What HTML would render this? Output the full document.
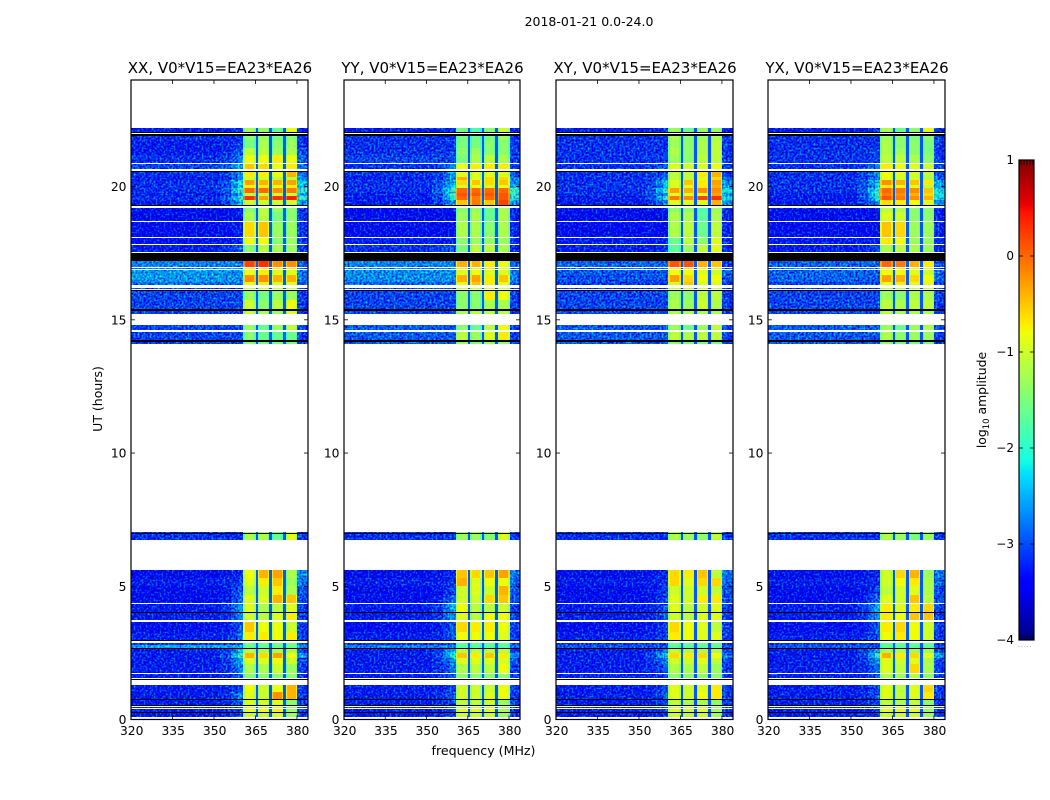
<!DOCTYPE html>
<html lang="en">
<head>
<meta charset="utf-8">
<title>2018-01-21 0.0-24.0</title>
<style>
html,body{margin:0;padding:0;background:#fff;}
svg{display:block;font-family:"DejaVu Sans","Liberation Sans",sans-serif;fill:#000;}
</style>
</head>
<body>
<svg id="figure" xmlns="http://www.w3.org/2000/svg" width="1050" height="800" viewBox="0 0 1050 800">
<defs>
<filter id="grain" filterUnits="userSpaceOnUse" x="0" y="0" width="1050" height="800" color-interpolation-filters="sRGB">
<feTurbulence type="fractalNoise" baseFrequency="0.5" numOctaves="1" seed="4" result="t"/>
<feColorMatrix in="t" type="matrix" values="0 0 0 0 0.5  1.6 0 0 0 -0.42  0 1.4 0 0 -0.2  0 0 0 0 1" result="n"/>
<feComposite in="SourceGraphic" in2="n" operator="arithmetic" k1="0" k2="1" k3="1" k4="-0.5" result="m"/>
<feComposite in="m" in2="SourceAlpha" operator="in"/>
</filter>
<linearGradient id="colorbar-gradient" x1="0" y1="1" x2="0" y2="0"></linearGradient>
</defs>
<text x="589" y="26" font-size="12.5" text-anchor="middle">2018-01-21 0.0-24.0</text>
<text x="483.5" y="755" font-size="12.6" text-anchor="middle">frequency (MHz)</text>
<text x="0" y="0" font-size="12.5" text-anchor="middle" transform="translate(102 399) rotate(-90)">UT (hours)</text>
<text x="0" y="0" font-size="12.4" text-anchor="middle" transform="translate(986 400) rotate(-90)">log<tspan font-size="8.5" dy="3">10</tspan><tspan dy="-3"> amplitude</tspan></text>
<g id="panels"></g>
<g id="colorbar"></g>
</svg>
<script>
// Panel titles and axis ticks
const panelTitles = ['XX, V0*V15=EA23*EA26', 'YY, V0*V15=EA23*EA26', 'XY, V0*V15=EA23*EA26', 'YX, V0*V15=EA23*EA26'];
const freqTicks = [320, 335, 350, 365, 380];
const hourTicks = [0, 5, 10, 15, 20];
const colorTicks = [1, 0, -1, -2, -3, -4];

// Start / end (UT hours) of each stretch of recorded data
const rowStart = [22.20,21.90,21.74,21.44,21.18,20.86,20.53,20.36,20.24,20.06,19.94,19.77,19.64,19.49,19.21,19.04,18.67,18.07,17.79,17.20,16.94,16.87,16.68,16.42,16.20,16.08,15.74,15.33,14.82,14.56,14.17,7.02,5.61,5.31,5.01,4.67,4.33,4.00,3.66,3.28,2.87,2.80,2.65,2.50,2.31,2.08,1.70,1.29,1.03,0.73,0.47,0.39,0.24];
const rowEnd = [22.04,21.76,21.44,21.18,20.90,20.66,20.36,20.24,20.06,19.94,19.77,19.64,19.49,19.32,19.04,18.71,18.10,17.86,17.54,17.00,16.90,16.68,16.42,16.29,16.14,15.74,15.40,15.23,14.62,14.24,14.11,6.74,5.31,5.01,4.67,4.37,4.03,3.73,3.28,2.98,2.80,2.67,2.50,2.31,2.08,1.75,1.54,1.03,0.77,0.53,0.43,0.28,0.09];

// Flagged (black) scans
const flagStart = [22.04,21.97,20.60,19.32,17.49,16.12,15.39,14.24,7.00,4.03,2.98,2.67,1.53,0.77,0.53,0.28];
const flagEnd = [22.00,21.90,20.54,19.29,17.20,16.08,15.34,14.18,6.96,4.00,2.94,2.65,1.49,0.73,0.49,0.24];

// Frequency bands: background, ramp, sub-bands A-D, right edge (MHz)
const bandStart = [360.67, 365.9, 370.9, 375.9];
const bandEnd = [365.1, 370.0, 375.0, 380.2];
const gapValue = [-2.95];

// log10 amplitude per row: [background, ramp, A, B, C, D, right edge]
const xxValues = [
[-3.1,-3.0,-1.2,-1.3,-1.6,-0.8,-3.1],[-3.0,-3.0,-1.4,-1.3,-1.5,-1.4,-3.0],[-3.1,-2.9,-1.5,-1.2,-1.4,-1.3,-3.0],[-3.1,-2.8,-1.1,-1.1,-1.3,-1.2,-2.9],[-3.0,-2.6,-0.8,-0.8,-0.7,-0.8,-2.8],
[-2.9,-2.4,-0.5,-0.6,-0.8,-0.7,-2.7],[-3.0,-2.5,-0.7,-0.7,-0.8,-0.4,-2.7],[-3.1,-2.6,-1.0,-1.0,-1.1,-1.1,-2.6],[-3.0,-2.1,-0.3,-0.4,-0.4,-0.3,-2.3],[-3.0,-2.3,-0.7,-0.7,-0.8,-0.7,-2.3],
[-3.0,-1.9,0.0,0.0,-0.2,-0.1,-2.0],[-3.1,-2.4,-1.1,-1.0,-1.0,-1.0,-2.4],[-3.0,-1.9,0.3,-0.3,0.3,0.4,-2.0],[-3.1,-2.3,-1.0,-1.0,-1.0,-1.0,-2.5],[-3.2,-3.1,-1.4,-1.1,-1.3,-1.4,-3.0],
[-3.2,-3.1,-1.2,-1.1,-1.5,-1.4,-3.0],[-3.2,-3.1,-0.6,-0.5,-1.3,-1.3,-3.0],[-3.2,-3.0,-0.8,-0.8,-1.4,-1.3,-3.0],[-3.1,-2.8,-1.4,-1.1,-1.2,-1.3,-3.0],[-2.6,-2.6,0.2,0.3,-0.2,-0.2,-2.8],
[-2.55,-2.55,-0.7,-0.7,-0.7,-0.7,-2.8],[-2.5,-2.55,-0.8,-0.7,-0.9,-0.9,-2.7],[-2.5,-2.55,-0.2,-0.2,-0.4,-0.4,-2.7],[-2.7,-2.7,-0.8,-0.7,-0.9,-0.9,-2.9],[-2.9,-2.9,-0.9,-0.9,-0.9,-0.9,-3.0],
[-2.9,-2.9,-1.3,-1.5,-1.3,-1.3,-3.0],[-2.9,-2.9,-1.0,-1.4,-1.1,-0.8,-3.0],[-2.9,-2.9,-1.0,-1.2,-1.3,-0.9,-3.0],[-2.9,-2.9,-1.3,-1.6,-1.3,-1.1,-2.9],[-2.9,-2.9,-1.4,-1.6,-1.6,-1.6,-3.0],
[-2.9,-2.9,-1.4,-1.5,-1.5,-1.5,-3.0],[-3.0,-3.0,-1.2,-1.2,-1.6,-0.9,-3.0],[-3.2,-3.0,-0.8,-0.4,-0.3,-1.2,-2.6],[-3.1,-2.9,-0.9,-0.7,-0.5,-1.3,-2.7],[-3.2,-2.8,-1.1,-1.0,-0.7,-1.2,-2.9],
[-3.2,-2.7,-0.9,-0.9,-0.4,-0.5,-2.9],[-3.1,-2.5,-0.9,-1.2,-1.1,-0.9,-3.0],[-3.1,-2.6,-1.0,-1.1,-0.9,-0.7,-3.0],[-3.2,-2.8,-0.5,-0.8,-0.8,-1.0,-3.0],[-3.1,-2.7,-0.7,-0.7,-0.8,-0.7,-3.0],
[-3.0,-2.9,-1.5,-1.5,-1.5,-1.5,-3.0],[-2.4,-2.4,-1.6,-1.6,-1.6,-1.6,-2.6],[-3.1,-2.3,-1.1,-1.2,-1.2,-1.2,-2.9],[-3.1,-1.9,-0.4,-0.6,-0.3,-0.8,-2.5],[-3.1,-2.4,-0.9,-0.9,-0.8,-1.0,-2.9],
[-3.1,-2.6,-1.2,-1.2,-1.0,-1.3,-3.0],[-3.1,-2.8,-1.4,-1.4,-1.4,-1.4,-3.0],[-3.1,-2.9,-0.8,-1.0,-0.8,-0.4,-3.0],[-3.1,-2.6,-0.9,-1.0,-0.2,-0.4,-3.0],[-3.1,-2.8,-0.9,-1.0,-0.9,-1.4,-3.0],
[-3.1,-2.9,-1.1,-1.1,-1.0,-1.3,-3.0],[-3.1,-2.9,-0.8,-0.8,-0.7,-1.3,-3.0],[-3.1,-2.9,-1.0,-1.0,-0.9,-1.3,-3.0]
];
const yyValues = [
[-3.1,-3.0,-1.5,-1.8,-1.4,-1.0,-3.1],[-3.0,-3.0,-1.5,-1.6,-1.5,-1.3,-3.0],[-3.0,-3.0,-1.5,-1.5,-1.4,-1.4,-3.0],[-3.0,-2.9,-1.4,-1.3,-1.4,-1.4,-3.0],[-2.9,-2.9,-1.5,-1.2,-1.1,-1.2,-3.0],
[-3.0,-2.6,-0.8,-0.7,-0.7,-0.7,-3.0],[-3.0,-2.5,-0.9,-0.9,-0.9,-0.9,-2.9],[-3.1,-2.5,-0.4,-0.9,-0.6,-0.6,-2.7],[-3.0,-2.4,-0.6,-0.5,-0.6,-0.5,-2.6],[-3.0,-2.2,-0.9,-0.8,-0.9,-0.8,-2.4],
[-3.0,-1.9,0.0,0.0,0.0,0.0,-2.0],[-3.1,-1.9,0.1,0.1,0.1,0.1,-2.0],[-3.1,-2.0,0.0,-0.1,0.0,0.1,-2.1],[-3.1,-2.5,-0.5,-0.1,-0.5,0.2,-2.6],[-3.2,-3.1,-1.4,-1.3,-1.6,-1.2,-3.1],
[-3.2,-3.2,-1.3,-1.2,-1.6,-1.2,-3.1],[-3.2,-3.2,-1.2,-1.2,-1.4,-1.2,-3.1],[-3.1,-3.1,-1.4,-1.3,-1.3,-1.3,-3.1],[-3.0,-2.8,-1.5,-1.1,-1.1,-1.2,-3.1],[-2.6,-2.6,-0.4,-0.4,-0.7,-0.8,-2.8],
[-2.55,-2.55,-0.7,-0.9,-0.7,-0.8,-2.8],[-2.55,-2.55,-0.9,-0.8,-0.9,-0.9,-2.7],[-2.55,-2.55,-0.4,-0.3,-0.7,-0.5,-2.7],[-2.75,-2.75,-0.8,-0.5,-0.7,-0.8,-2.9],[-2.9,-2.9,-0.9,-0.9,-0.9,-0.9,-3.0],
[-2.9,-2.9,-1.4,-1.4,-0.7,-0.8,-3.0],[-2.9,-2.9,-1.4,-1.4,-1.2,-1.2,-3.0],[-2.9,-2.9,-1.2,-1.1,-1.1,-1.1,-3.0],[-2.8,-2.8,-1.4,-1.6,-1.1,-0.8,-3.0],[-2.8,-2.8,-1.1,-1.3,-0.9,-0.7,-3.0],
[-2.8,-2.8,-1.3,-1.4,-1.3,-1.3,-3.0],[-3.0,-3.0,-1.3,-1.3,-1.4,-0.9,-3.0],[-3.2,-3.0,-0.5,-0.6,-0.5,-0.3,-2.7],[-3.1,-3.0,-0.4,-0.9,-0.8,-0.8,-2.8],[-3.2,-2.9,-1.0,-0.9,-1.0,-0.4,-2.9],
[-3.2,-2.7,-1.0,-1.0,-0.6,-0.5,-2.9],[-3.1,-2.4,-0.8,-1.1,-1.1,-1.0,-3.0],[-3.1,-2.5,-0.9,-1.1,-0.8,-0.8,-3.0],[-3.2,-2.8,-0.6,-0.7,-0.7,-0.8,-3.0],[-3.1,-2.8,-0.8,-0.8,-0.8,-0.9,-3.0],
[-3.0,-2.9,-1.6,-1.6,-1.6,-1.6,-3.0],[-2.6,-2.6,-1.7,-1.7,-1.7,-1.7,-2.8],[-3.1,-2.4,-1.1,-1.1,-1.1,-1.1,-3.0],[-3.1,-2.1,-0.5,-0.7,-0.5,-0.7,-2.6],[-3.1,-2.5,-0.9,-0.9,-0.9,-0.9,-2.9],
[-3.1,-2.7,-1.2,-1.1,-1.1,-0.8,-3.0],[-3.1,-2.8,-1.4,-1.4,-1.4,-1.4,-3.0],[-3.1,-2.9,-1.0,-1.0,-1.0,-0.8,-3.0],[-3.1,-2.8,-1.0,-1.0,-0.9,-0.8,-3.0],[-3.1,-2.9,-1.1,-1.1,-1.0,-1.3,-3.0],
[-3.1,-2.9,-1.1,-1.1,-1.1,-1.3,-3.0],[-3.1,-2.9,-0.9,-0.9,-0.9,-1.2,-3.0],[-3.1,-2.9,-1.0,-1.0,-1.0,-1.3,-3.0]
];
const xyValues = [
[-3.1,-3.0,-1.3,-1.6,-1.3,-1.3,-3.1],[-3.0,-3.0,-1.2,-1.4,-1.3,-1.2,-3.0],[-3.0,-3.0,-1.3,-1.4,-1.2,-1.1,-3.0],[-3.0,-3.0,-1.2,-1.4,-1.2,-1.1,-3.0],[-3.0,-2.9,-1.3,-1.4,-1.1,-1.1,-3.0],
[-3.0,-2.7,-0.9,-1.0,-0.9,-0.8,-3.0],[-3.0,-2.8,-1.1,-1.1,-0.7,-0.4,-3.0],[-3.0,-2.7,-1.1,-1.1,-0.9,-0.6,-2.8],[-3.0,-2.3,-0.9,-0.5,-0.7,-0.3,-2.6],[-3.0,-2.4,-1.0,-0.9,-0.7,-0.4,-2.6],
[-3.0,-2.0,-0.3,-0.4,-0.2,-0.2,-2.2],[-3.0,-2.5,-0.9,-0.9,-0.8,-0.3,-2.5],[-3.1,-2.0,-0.1,-0.2,0.2,0.3,-2.2],[-3.1,-2.5,-0.9,-0.9,-0.9,-0.4,-2.6],[-3.2,-3.1,-1.4,-1.4,-1.8,-1.3,-3.1],
[-3.2,-3.2,-1.2,-1.2,-1.7,-1.2,-3.1],[-3.2,-3.2,-1.2,-1.1,-1.6,-1.1,-3.1],[-3.1,-3.1,-1.6,-1.1,-1.4,-0.9,-3.1],[-3.1,-3.0,-1.7,-1.3,-1.1,-0.9,-3.1],[-2.75,-2.75,0.1,0.1,-0.4,-0.5,-3.0],
[-2.75,-2.75,-0.7,-0.7,-0.8,-0.9,-3.0],[-2.8,-2.8,-0.8,-0.8,-0.9,-1.0,-2.8],[-2.85,-2.85,-0.3,-0.6,-0.8,-0.8,-2.9],[-2.95,-3.0,-0.9,-0.5,-0.9,-0.9,-3.0],[-3.0,-3.0,-1.0,-1.0,-0.9,-1.0,-3.0],
[-2.9,-2.9,-1.3,-1.4,-1.1,-1.1,-3.0],[-2.9,-2.9,-1.2,-1.3,-1.0,-1.2,-3.0],[-2.9,-2.9,-1.2,-1.2,-1.2,-1.2,-3.0],[-2.8,-2.8,-1.3,-1.6,-1.3,-1.1,-2.9],[-2.8,-2.8,-1.1,-1.2,-1.1,-1.1,-3.0],
[-2.8,-2.8,-1.4,-1.5,-1.5,-1.5,-3.0],[-3.0,-3.0,-1.2,-1.3,-1.4,-1.1,-3.0],[-3.2,-3.0,-0.6,-0.7,-0.5,-1.1,-2.7],[-3.1,-3.0,-0.6,-0.9,-0.6,-0.6,-2.8],[-3.2,-2.9,-1.0,-1.0,-1.0,-1.1,-2.9],
[-3.2,-2.9,-0.9,-1.0,-0.7,-0.7,-2.9],[-3.1,-2.8,-0.9,-1.1,-1.0,-0.9,-3.0],[-3.1,-2.8,-1.0,-1.1,-0.9,-0.9,-3.0],[-3.2,-2.9,-0.6,-0.8,-0.9,-1.1,-3.0],[-3.1,-2.9,-0.7,-0.8,-0.9,-0.9,-3.0],
[-3.0,-2.9,-1.6,-1.6,-1.6,-1.6,-3.0],[-2.8,-2.8,-1.7,-1.7,-1.7,-1.7,-2.9],[-3.1,-2.6,-1.1,-1.2,-1.2,-1.2,-3.0],[-3.1,-2.2,-0.6,-0.7,-0.6,-0.8,-2.7],[-3.1,-2.6,-1.0,-1.0,-0.9,-1.1,-2.9],
[-3.1,-2.8,-1.2,-1.2,-1.1,-1.3,-3.0],[-3.1,-2.9,-1.4,-1.4,-1.4,-1.4,-3.0],[-3.1,-2.9,-0.9,-1.0,-0.9,-0.7,-3.0],[-3.1,-2.8,-0.9,-1.0,-0.8,-0.7,-3.0],[-3.1,-2.9,-1.1,-1.2,-1.2,-1.4,-3.0],
[-3.1,-2.9,-1.1,-1.1,-1.1,-1.3,-3.0],[-3.1,-2.9,-0.9,-1.0,-0.9,-1.3,-3.0],[-3.1,-2.9,-1.0,-1.1,-1.0,-1.3,-3.0]
];
const yxValues = [
[-3.1,-3.0,-1.2,-1.6,-1.4,-0.8,-3.1],[-3.0,-3.0,-1.3,-1.4,-1.5,-1.4,-3.0],[-3.0,-3.0,-1.2,-1.4,-1.4,-1.5,-3.0],[-3.0,-2.9,-1.2,-1.3,-1.4,-1.5,-3.0],[-3.0,-2.9,-1.1,-1.1,-1.2,-1.4,-3.0],
[-3.0,-2.6,-0.7,-0.8,-0.9,-1.0,-2.9],[-3.0,-2.6,-0.8,-0.9,-1.0,-1.1,-2.9],[-3.0,-2.6,-0.9,-1.0,-1.0,-1.2,-2.8],[-3.0,-2.2,-0.2,-0.4,-0.5,-0.7,-2.5],[-3.0,-2.3,-0.7,-0.8,-0.9,-1.1,-2.5],
[-3.0,-1.9,0.0,-0.1,-0.2,-0.5,-2.2],[-3.1,-2.0,-0.1,-0.2,-0.4,-0.6,-2.2],[-3.1,-2.0,0.1,-0.1,-0.2,-0.4,-2.2],[-3.1,-2.5,-0.6,-0.7,-0.8,-0.9,-2.6],[-3.2,-3.1,-1.1,-1.2,-1.4,-1.4,-3.1],
[-3.2,-3.2,-0.9,-1.0,-1.4,-1.4,-3.1],[-3.2,-3.2,-0.5,-0.6,-1.3,-1.3,-3.1],[-3.1,-3.1,-0.7,-0.8,-1.3,-1.3,-3.1],[-3.1,-2.9,-1.2,-1.1,-1.2,-1.3,-3.1],[-2.75,-2.75,0.0,-0.1,-0.4,-0.7,-2.9],
[-2.75,-2.75,-0.7,-0.7,-0.8,-0.9,-2.9],[-2.75,-2.8,-0.8,-0.8,-0.9,-1.0,-2.8],[-2.75,-2.8,-0.3,-0.4,-0.6,-0.8,-2.8],[-2.9,-2.9,-0.8,-0.7,-0.9,-0.9,-3.0],[-3.0,-3.0,-1.0,-1.0,-1.0,-1.0,-3.0],
[-2.9,-2.9,-1.3,-1.4,-1.2,-1.2,-3.0],[-2.9,-2.9,-1.1,-1.2,-1.1,-1.1,-3.0],[-2.9,-2.9,-1.1,-1.2,-1.2,-1.2,-3.0],[-2.8,-2.8,-1.3,-1.6,-1.3,-1.2,-2.9],[-2.8,-2.8,-1.2,-1.4,-1.3,-1.3,-3.0],
[-2.8,-2.8,-1.4,-1.5,-1.5,-1.5,-3.0],[-3.0,-3.0,-1.2,-1.3,-1.5,-1.3,-3.0],[-3.2,-3.0,-1.0,-0.6,-0.4,-1.3,-2.7],[-3.1,-3.0,-1.0,-0.8,-0.7,-1.2,-2.8],[-3.2,-2.9,-1.1,-1.0,-0.9,-1.2,-2.9],
[-3.2,-2.7,-0.9,-1.0,-0.5,-1.1,-2.9],[-3.1,-2.4,-0.7,-0.9,-0.7,-0.6,-3.0],[-3.1,-2.5,-0.7,-0.8,-0.5,-0.5,-3.0],[-3.2,-2.8,-0.7,-0.6,-0.8,-1.0,-3.0],[-3.1,-2.8,-0.8,-0.7,-0.8,-1.0,-3.0],
[-3.0,-2.9,-1.6,-1.6,-1.6,-1.6,-3.0],[-2.8,-2.8,-1.7,-1.7,-1.7,-1.7,-2.9],[-3.1,-2.4,-1.2,-1.2,-1.3,-1.3,-3.0],[-3.1,-2.0,-0.4,-0.7,-0.6,-0.9,-2.5],[-3.1,-2.5,-0.9,-1.0,-0.9,-1.2,-2.9],
[-3.1,-2.7,-0.9,-1.1,-0.6,-1.2,-3.0],[-3.1,-2.8,-1.2,-1.3,-1.2,-1.4,-3.0],[-3.1,-2.9,-0.9,-1.1,-0.9,-0.6,-3.0],[-3.1,-2.8,-0.9,-1.1,-0.9,-0.7,-3.0],[-3.1,-2.9,-1.1,-1.2,-1.1,-1.4,-3.0],
[-3.1,-2.9,-1.1,-1.1,-1.1,-1.3,-3.0],[-3.1,-2.9,-0.9,-0.9,-0.9,-1.3,-3.0],[-3.1,-2.9,-1.0,-1.0,-1.0,-1.3,-3.0]
];
const panelValues = [xxValues, yyValues, xyValues, yxValues];
const panelKeys = ['xx', 'yy', 'xy', 'yx'];

// Layout of the four axes (pixels) and the axis domains
const axesLeft = [131, 344, 556, 768];
const axesWidths = [177, 176, 177, 177];
const axesTop = 80, axesBottom = 719.5;
const freqMin = 320, freqMax = 384, hourMin = 0, hourMax = 24;
const colorMin = -4, colorMax = 1, barTop = 160, barBottom = 640, barLeft = 1019, barRight = 1034;

function yScale(h) { return axesBottom - (h - hourMin) / (hourMax - hourMin) * (axesBottom - axesTop); }
function xScale(f, p) { return axesLeft[p] + (f - freqMin) / (freqMax - freqMin) * axesWidths[p]; }
function colorY(v) { return barBottom - (v - colorMin) / (colorMax - colorMin) * (barBottom - barTop); }

// matplotlib "jet" colormap
const jetR = [[0,0],[0.35,0],[0.66,1],[0.89,1],[1,0.5]];
const jetG = [[0,0],[0.125,0],[0.375,1],[0.64,1],[0.91,0],[1,0]];
const jetB = [[0,0.5],[0.11,1],[0.34,1],[0.65,0],[1,0]];
function channel(pts, t) {
  for (let i = 1; i < pts.length; i++) {
    if (t <= pts[i][0]) {
      const a = pts[i-1], b = pts[i];
      return a[1] + (t - a[0]) / (b[0] - a[0]) * (b[1] - a[1]);
    }
  }
  return pts[pts.length-1][1];
}
function jet(v) {
  const t = Math.max(0, Math.min(1, (v - colorMin) / (colorMax - colorMin)));
  return 'rgb(' + Math.round(255*channel(jetR,t)) + ',' + Math.round(255*channel(jetG,t)) + ',' + Math.round(255*channel(jetB,t)) + ')';
}

const NS = 'http://www.w3.org/2000/svg';
function make(tag, parent, props) {
  const el = document.createElementNS(NS, tag);
  for (const k in props) el.setAttribute(k, props[k]);
  parent.appendChild(el);
  return el;
}
function cell(parent, f0, f1, h0, h1, p, fill) {
  const x0 = Math.round(xScale(f0, p)), x1 = Math.round(xScale(f1, p));
  const y0 = Math.round(yScale(h0)), y1 = Math.round(yScale(h1));
  const el = make('rect', parent, {x: x0, y: y0, width: Math.max(x1 - x0, 1), height: Math.max(y1 - y0, 1), fill: fill, 'shape-rendering': 'crispEdges'});
  
  
  return el;
}

const panelsRoot = document.getElementById('panels');
panelTitles.forEach(function (title, p) {
  const left = axesLeft[p], width = axesWidths[p], values = panelValues[p];
  const g = make('g', panelsRoot, {});
  
  

  // speckle filter only touches the receiver-background cells
  const noisy = make('g', g, {filter: 'url(#grain)'});
  
  
  const smooth = make('g', g, {});
  
  

  values.forEach(function (row, r) {
    const h0 = rowStart[r], h1 = rowEnd[r];
    const bg = row[0], ramp = row[1], right = row[6];
    cell(noisy, freqMin, 352, h0, h1, p, jet(bg));
    cell(noisy, 352, 356, h0, h1, p, jet(bg + (ramp - bg) * 0.2));
    cell(noisy, 356, 358.6, h0, h1, p, jet(bg + (ramp - bg) * 0.6));
    cell(noisy, 358.6, bandStart[0], h0, h1, p, jet(ramp));
    cell(noisy, bandEnd[3], 382, h0, h1, p, jet(right + 0.1));
    cell(noisy, 382, freqMax, h0, h1, p, jet(right));
    bandStart.forEach(function (s, b) {
      const e = bandEnd[b], v = row[2 + b];
      cell(smooth, s, s + 0.5, h0, h1, p, jet(v - 0.35));
      cell(smooth, s + 0.5, e - 0.5, h0, h1, p, jet(v));
      cell(smooth, e - 0.5, e, h0, h1, p, jet(v - 0.3));
      if (b < bandStart.length - 1) {
        cell(smooth, e, bandStart[b + 1], h0, h1, p, jet(gapValue[0]));
      }
    });
  });

  flagStart.forEach(function (h0, i) {
    const el = cell(g, freqMin, freqMax, h0, flagEnd[i], p, '#000');
    
    
  });

  const frame = make('rect', g, {x: left, y: axesTop, width: width, height: axesBottom - axesTop, fill: 'none', stroke: '#000', 'stroke-width': 1.2});
  
  

  const t = make('text', g, {x: left + width / 2 + 0.5, y: 73, 'font-size': 15, 'text-anchor': 'middle'});
  t.textContent = title;
  
  

  freqTicks.forEach(function (f) {
    const x = xScale(f, p);
    const a = make('line', g, {x1: x, x2: x, y1: axesBottom, y2: axesBottom - 4, stroke: '#000', 'stroke-width': 0.8});
    
    
    const b = make('line', g, {x1: x, x2: x, y1: axesTop, y2: axesTop + 4, stroke: '#000', 'stroke-width': 0.8});
    
    
    const l = make('text', g, {x: x + 0.7, y: 735, 'font-size': 12.3, 'text-anchor': 'middle'});
    l.textContent = f;
    
    
  });
  hourTicks.forEach(function (h) {
    const y = yScale(h);
    const a = make('line', g, {x1: left, x2: left + 4, y1: y, y2: y, stroke: '#000', 'stroke-width': 0.8});
    
    
    const b = make('line', g, {x1: left + width - 4, x2: left + width, y1: y, y2: y, stroke: '#000', 'stroke-width': 0.8});
    
    
    const l = make('text', g, {x: left - 4.5, y: y + 4.5, 'font-size': 12.3, 'text-anchor': 'end'});
    l.textContent = h;
    
    
  });
});

// Colorbar
const gradient = document.getElementById('colorbar-gradient');
for (let v = colorMin; v <= colorMax + 1e-9; v += 0.05) {
  make('stop', gradient, {offset: (v - colorMin) / (colorMax - colorMin), 'stop-color': jet(v)});
}
const bar = document.getElementById('colorbar');
const barFill = make('rect', bar, {x: barLeft, y: colorY(colorMax), width: barRight - barLeft, height: colorY(colorMin) - colorY(colorMax), fill: 'url(#colorbar-gradient)'});


const barFrame = make('rect', bar, {x: barLeft, y: barTop, width: barRight - barLeft, height: barBottom - barTop, fill: 'none', stroke: '#000', 'stroke-width': 1.2});


colorTicks.forEach(function (v) {
  const y = colorY(v);
  const a = make('line', bar, {x1: barLeft, x2: barLeft + 4, y1: y, y2: y, stroke: '#000', 'stroke-width': 0.8});
  
  
  const b = make('line', bar, {x1: barRight - 4, x2: barRight, y1: y, y2: y, stroke: '#000', 'stroke-width': 0.8});
  
  
  const l = make('text', bar, {x: barLeft - 5, y: y + 4, 'font-size': 12, 'text-anchor': 'end'});
  l.textContent = v < 0 ? '\u2212' + Math.abs(v) : String(v);
  
  
});
for (let x = barLeft + 2; x < barRight; x += 3) {
  const top = make('line', bar, {x1: x, x2: x, y1: barTop, y2: barTop + 5, stroke: '#000', 'stroke-width': 0.7});
  
  
  const bot = make('line', bar, {x1: x, x2: x, y1: barBottom - 5, y2: barBottom, stroke: '#000', 'stroke-width': 0.7});
  
  
}
const dots = make('text', bar, {x: 1018, y: 647, 'font-size': 6, fill: '#777', 'letter-spacing': 1});
dots.textContent = '.....';


</script>
</body>
</html>
